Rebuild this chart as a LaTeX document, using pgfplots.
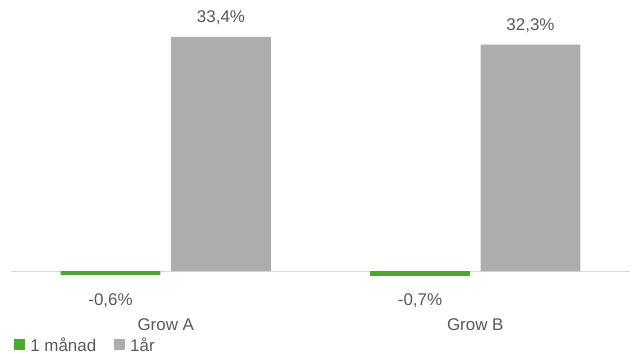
\documentclass[border=0pt]{standalone}
\usepackage{fontspec}
\setmainfont{Liberation Sans}
\usepackage{pgfplots}
\pgfplotsset{compat=1.18}
\definecolor{grn}{HTML}{4EA72E}
\definecolor{gry}{HTML}{ADADAD}
\definecolor{txt}{HTML}{595959}
\definecolor{zl}{HTML}{D9D9D9}
\newcommand{\lbl}{\fontsize{17}{20}\selectfont}
\begin{document}
\begin{tikzpicture}
\begin{axis}[
 at={(11bp,40.96bp)}, anchor=south west,
 scale only axis, width=619bp, height=301.26bp,
 xmin=-0.5, xmax=1.5, ymin=-6, ymax=37,
 clip=false,
 axis line style={draw=none},
 major tick length=0pt,
 ytick=\empty,
 xtick={0,1}, xticklabels={Grow A, Grow B},
 xticklabel style={font=\lbl, text=txt, anchor=north, inner sep=0pt, yshift=-5bp},
 legend style={draw=none, fill=none, at={(0.005,-0.106)}, anchor=west,
   font=\lbl, text=txt, inner sep=0pt,
   /tikz/every even column/.append style={column sep=16bp}},
 legend columns=2, legend cell align=left,
 legend image code/.code={\fill[#1] (0bp,-5.5bp) rectangle (11bp,5.5bp); \path (0bp,0bp) -- (14bp,0bp);},
]
\addplot[draw=zl, line width=0.8pt, forget plot] coordinates {(-0.5,0) (1.5,0)};
\addplot[ybar, bar width=0.323, bar shift=-0.1785, fill=grn, draw=none,
  nodes near coords={\pgfmathprintnumber[fixed, fixed zerofill, precision=1, use comma, assume math mode=true]{\pgfplotspointmeta}\%},
  every node near coord/.append style={anchor=north, inner sep=0pt, xshift=-55.25bp, yshift=-18bp, font=\lbl, text=txt}]
  coordinates {(0,-0.6) (1,-0.7)};
\addlegendentry{1 månad}
\addplot[ybar, bar width=0.323, bar shift=0.1785, fill=gry, draw=none,
  nodes near coords={\pgfmathprintnumber[fixed, fixed zerofill, precision=1, use comma, assume math mode=true]{\pgfplotspointmeta}\%},
  every node near coord/.append style={anchor=base, inner sep=0pt, xshift=55.25bp, yshift=14bp, font=\lbl, text=txt}]
  coordinates {(0,33.4) (1,32.3)};
\addlegendentry{1år}
\end{axis}
\pgfresetboundingbox
\path (0,0) rectangle (636bp,354bp);
\end{tikzpicture}
\end{document}
